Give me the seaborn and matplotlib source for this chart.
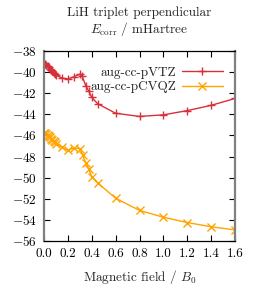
import numpy as np
import pandas as pd
import matplotlib
matplotlib.use('Agg')
import matplotlib.pyplot as plt
import seaborn as sns

# ==============================================================================
# DATOS
# ==============================================================================
campo_vtz = [0.0, 0.01, 0.02, 0.03, 0.04, 0.05, 0.06, 0.07, 0.08, 0.09, 0.1,
             0.15, 0.2, 0.25, 0.3, 0.32, 0.35, 0.375, 0.4, 0.45, 0.6,
             0.8, 1.0, 1.2, 1.4, 1.6]
ecorr_vtz = [-39.15, -39.2, -39.3, -39.42, -39.55, -39.68, -39.8, -39.92, -40.05, -40.15, -40.3,
             -40.55, -40.65, -40.45, -40.2, -40.4, -41.3, -41.8, -42.4, -43.0, -43.9,
             -44.2, -44.05, -43.65, -43.15, -42.5]

campo_cvqz = [0.0, 0.01, 0.02, 0.03, 0.04, 0.05, 0.06, 0.07, 0.08, 0.09, 0.1,
              0.15, 0.2, 0.25, 0.3, 0.325, 0.35, 0.375, 0.4, 0.45, 0.6,
              0.8, 1.0, 1.2, 1.4, 1.6]
ecorr_cvqz = [-45.75, -45.8, -45.85, -45.95, -46.05, -46.15, -46.3, -46.45, -46.55, -46.65, -46.8,
              -47.1, -47.4, -47.2, -47.25, -47.9, -48.6, -49.2, -49.9, -50.5, -51.95,
              -53.1, -53.75, -54.25, -54.65, -54.95]

xticks = [0.0, 0.2, 0.4, 0.6, 0.8, 1.0, 1.2, 1.4, 1.6]
yticks = [-38, -40, -42, -44, -46, -48, -50, -52, -54, -56]

# ==============================================================================
# ESTILO
# ==============================================================================
sns.set_style('ticks')
plt.rcParams['font.family'] = 'serif'
plt.rcParams['font.serif'] = ['cmr10']
plt.rcParams['mathtext.fontset'] = 'cm'
plt.rcParams['axes.formatter.use_mathtext'] = True
plt.rcParams['axes.unicode_minus'] = True

rojo = '#d7303a'
naranja = '#ffa400'
fs = 9.5

df_vtz = pd.DataFrame({'B': campo_vtz, 'E': ecorr_vtz})
df_cvqz = pd.DataFrame({'B': campo_cvqz, 'E': ecorr_cvqz})

fig = plt.figure(figsize=(2.61, 2.93), dpi=100)
ax = fig.add_axes([0.1686, 0.1775, 0.7318, 0.6485])

sns.lineplot(data=df_vtz, x='B', y='E', ax=ax, color=rojo, marker='+',
             markersize=6, markeredgewidth=1.0, markeredgecolor=rojo,
             linewidth=1.0, label='aug-cc-pVTZ', sort=False)
sns.lineplot(data=df_cvqz, x='B', y='E', ax=ax, color=naranja, marker='x',
             markersize=5.5, markeredgewidth=1.0, markeredgecolor=naranja,
             linewidth=1.0, label='aug-cc-pCVQZ', sort=False)

ax.set_xlim(0, 1.6)
ax.set_ylim(-56, -38)
ax.set_xticks(xticks)
ax.set_yticks(yticks)
ax.set_xticklabels([f'{v:.1f}' for v in xticks])
ax.tick_params(direction='in', length=4, width=0.8, top=True, right=True,
               labelsize=fs, colors='black', pad=5)
ax.tick_params(axis='y', labelright=False)

for lado in ['left', 'right']:
    ax.spines[lado].set_color('#808080')
    ax.spines[lado].set_linewidth(1.6)
for lado in ['top', 'bottom']:
    ax.spines[lado].set_color('black')
    ax.spines[lado].set_linewidth(0.9)

ax.set_xlabel('Magnetic field / $B_0$', fontsize=fs, labelpad=6)
ax.set_ylabel('')
ax.set_title('LiH triplet perpendicular\n$E_{\\mathrm{corr}}$ / mHartree',
             fontsize=fs, pad=13, linespacing=1.05)

leg = ax.legend(loc='upper right', frameon=False, markerfirst=False, fontsize=fs,
                handlelength=3.1, handletextpad=0.45, labelspacing=0.15,
                bbox_to_anchor=(0.985, 0.965), borderaxespad=0.3)

fig.savefig('out.png', dpi=100)
